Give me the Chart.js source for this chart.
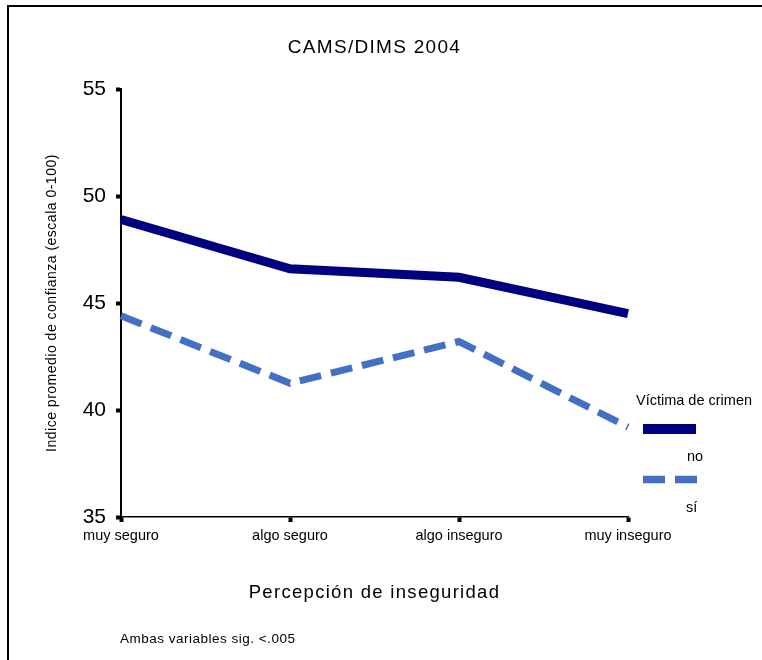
<!DOCTYPE html>
<html>
<head>
<meta charset="utf-8">
<script src="https://cdn.jsdelivr.net/npm/chart.js@4"></script>
<style>
  body { margin: 0; background: #fff; }
  canvas { display: block; }
</style>
</head>
<body>
<canvas id="chart" width="762" height="660"></canvas>
<script>
const categories = ['muy seguro', 'algo seguro', 'algo inseguro', 'muy inseguro'];
const noVictima = [48.9, 46.6, 46.2, 44.5];
const siVictima = [44.4, 41.25, 43.2, 39.2];
const yTicks = [35, 40, 45, 50, 55];

const FONT = "'Liberation Sans', Arial, sans-serif";
const NAVY = '#000080';
const BLUE = '#4170c4';

function text(ctx, str, x, y, size, spacing, align) {
  ctx.save();
  ctx.font = size + 'px ' + FONT;
  ctx.fillStyle = '#000';
  ctx.letterSpacing = spacing + 'px';
  ctx.textAlign = align || 'left';
  ctx.textBaseline = 'middle';
  ctx.fillText(str, x, y);
  ctx.restore();
}

// frame, titles, legend and footnote
const extras = {
  id: 'extras',
  beforeDraw(chart) {
    const ctx = chart.ctx;
    ctx.save();
    ctx.fillStyle = '#000';
    ctx.fillRect(8, 5, 754, 2);
    ctx.fillRect(7, 5, 2, 655);
    ctx.restore();
  },
  afterDraw(chart) {
    const ctx = chart.ctx;
    const area = chart.chartArea;
    const mid = (area.left + area.right) / 2;
    text(ctx, 'CAMS/DIMS 2004', mid, 48, 19, 1.3, 'center');
    text(ctx, 'Percepción de inseguridad', mid, 593, 18.5, 1.3, 'center');

    ctx.save();
    ctx.translate(52, 303);
    ctx.rotate(-Math.PI / 2);
    text(ctx, 'Indice promedio de confianza (escala 0-100)', 0, 0, 14, 0.5, 'center');
    ctx.restore();

    // legend
    text(ctx, 'Víctima de crimen', 636, 401, 14.5, 0, 'left');
    ctx.save();
    ctx.lineWidth = 10;
    ctx.strokeStyle = NAVY;
    ctx.beginPath();
    ctx.moveTo(643, 429);
    ctx.lineTo(696, 429);
    ctx.stroke();
    ctx.lineWidth = 7.5;
    ctx.strokeStyle = BLUE;
    ctx.setLineDash([22, 10]);
    ctx.beginPath();
    ctx.moveTo(643, 479.5);
    ctx.lineTo(697, 479.5);
    ctx.stroke();
    ctx.restore();
    text(ctx, 'no', 687, 457, 14.5, 0, 'left');
    text(ctx, 'sí', 686, 508, 14.5, 0, 'left');

    text(ctx, 'Ambas variables sig. <.005', 120, 639, 13.5, 0.5, 'left');
  }
};

new Chart(document.getElementById('chart'), {
  type: 'line',
  data: {
    labels: categories,
    datasets: [
      {
        label: 'no',
        data: noVictima,
        borderColor: NAVY,
        borderWidth: 9,
        pointRadius: 0,
        tension: 0
      },
      {
        label: 'sí',
        data: siVictima,
        borderColor: BLUE,
        borderWidth: 7,
        borderDash: [22, 10],
        pointRadius: 0,
        tension: 0
      }
    ]
  },
  options: {
    responsive: false,
    animation: false,
    layout: { padding: { left: 0, top: 89, right: 134, bottom: 0 } },
    plugins: {
      legend: { display: false },
      title: { display: false },
      tooltip: { enabled: false }
    },
    scales: {
      x: {
        type: 'category',
        offset: false,
        grid: {
          offset: false,
          drawOnChartArea: false,
          drawTicks: true,
          tickLength: 5,
          tickWidth: 4,
          tickColor: '#000'
        },
        border: { display: true, color: '#000', width: 1.5 },
        ticks: {
          color: '#000',
          font: { family: FONT, size: 14.5 },
          padding: 5,
          maxRotation: 0,
          autoSkip: false
        },
        afterFit(scale) { scale.height = 143; }
      },
      y: {
        min: 35,
        max: 55,
        afterBuildTicks(scale) { scale.ticks = yTicks.map(v => ({ value: v })); },
        grid: {
          drawOnChartArea: false,
          drawTicks: true,
          tickLength: 5,
          tickWidth: 4,
          tickColor: '#000'
        },
        border: { display: true, color: '#000', width: 2 },
        ticks: {
          color: '#000',
          font: { family: FONT, size: 21 },
          padding: 10
        },
        afterFit(scale) { scale.width = 121; }
      }
    }
  },
  plugins: [extras]
});
</script>
</body>
</html>
